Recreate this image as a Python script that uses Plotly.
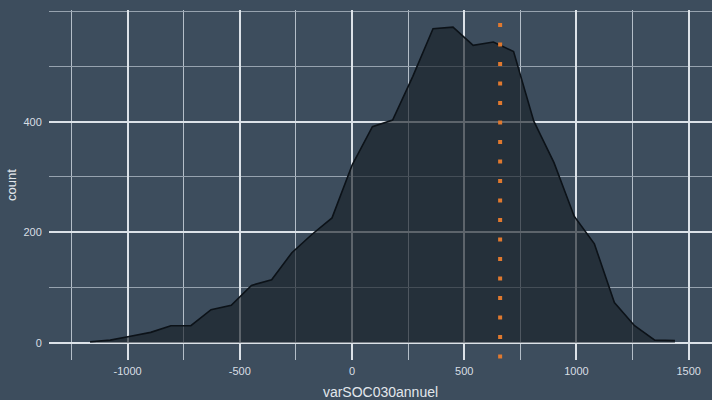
import plotly.graph_objects as go

# ---- data ----
bin_centers = [-1167, -1077, -987, -897, -807, -718, -628, -538, -448, -358,
               -268, -179, -89, 1, 91, 181, 271, 361, 450, 540,
               630, 720, 810, 900, 990, 1080, 1169, 1259, 1349, 1439]
counts = [2, 5, 12, 19, 31, 31, 60, 68, 104, 114,
          163, 196, 226, 322, 391, 403, 482, 568, 571, 538,
          544, 527, 401, 326, 229, 179, 73, 31, 5, 4]
mean_value = 660

x_tickvals = [-1000, -500, 0, 500, 1000, 1500]
x_ticktext = ["-1000", "-500", "0", "500", "1000", "1500"]
y_tickvals = [0, 200, 400]
y_ticktext = ["0", "200", "400"]

x_title = "varSOC030annuel"
y_title = "count"

BG = "#3D4D5D"
FONT = "Liberation Sans, Arial, sans-serif"

fig = go.Figure()
fig.add_trace(go.Scatter(
    x=bin_centers, y=counts, mode="lines",
    line=dict(color="#0C1218", width=1.6),
    fill="tozeroy", fillcolor="rgba(25,32,40,0.65)",
    hoverinfo="x+y", showlegend=False,
))

fig.add_shape(type="line", xref="x", yref="paper",
              x0=mean_value, x1=mean_value, y0=0.963, y1=0,
              line=dict(color="#E0792F", width=4, dash="4px,15.5px"))

fig.update_layout(
    width=712, height=400,
    paper_bgcolor=BG, plot_bgcolor=BG,
    margin=dict(l=49, r=0, t=10, b=40, autoexpand=False),
    font=dict(family=FONT, color="#D8DEE4", size=11),
    showlegend=False,
)

fig.update_xaxes(
    range=[-1350, 1604], autorange=False,
    tickvals=x_tickvals, ticktext=x_ticktext,
    ticks="outside", ticklen=1, tickcolor=BG,
    showgrid=True, gridcolor="#DCE2E8", gridwidth=1.6,
    minor=dict(dtick=250, tick0=0, showgrid=True, gridcolor="#B4BEC8", gridwidth=1),
    zeroline=False, showline=False,
    tickfont=dict(size=11, color="#D8DEE4"),
    title=dict(text=x_title, font=dict(size=14, color="#E2E7EC"), standoff=10),
    automargin=False,
)
fig.update_yaxes(
    range=[-31, 602], autorange=False,
    tickvals=y_tickvals, ticktext=y_ticktext,
    ticks="outside", ticklen=4, tickcolor=BG,
    showgrid=True, gridcolor="#DCE2E8", gridwidth=1.8,
    minor=dict(dtick=100, tick0=0, showgrid=True, gridcolor="#97A3AF", gridwidth=1),
    zeroline=False, showline=False,
    tickfont=dict(size=11, color="#D8DEE4"),
    title=dict(text=y_title, font=dict(size=13, color="#E2E7EC"), standoff=3),
    automargin=False,
)

fig.write_html(
    "out.html",
    config={"displayModeBar": False},
    post_script="document.body.style.margin='0';document.body.style.background='%s';" % BG,
)
